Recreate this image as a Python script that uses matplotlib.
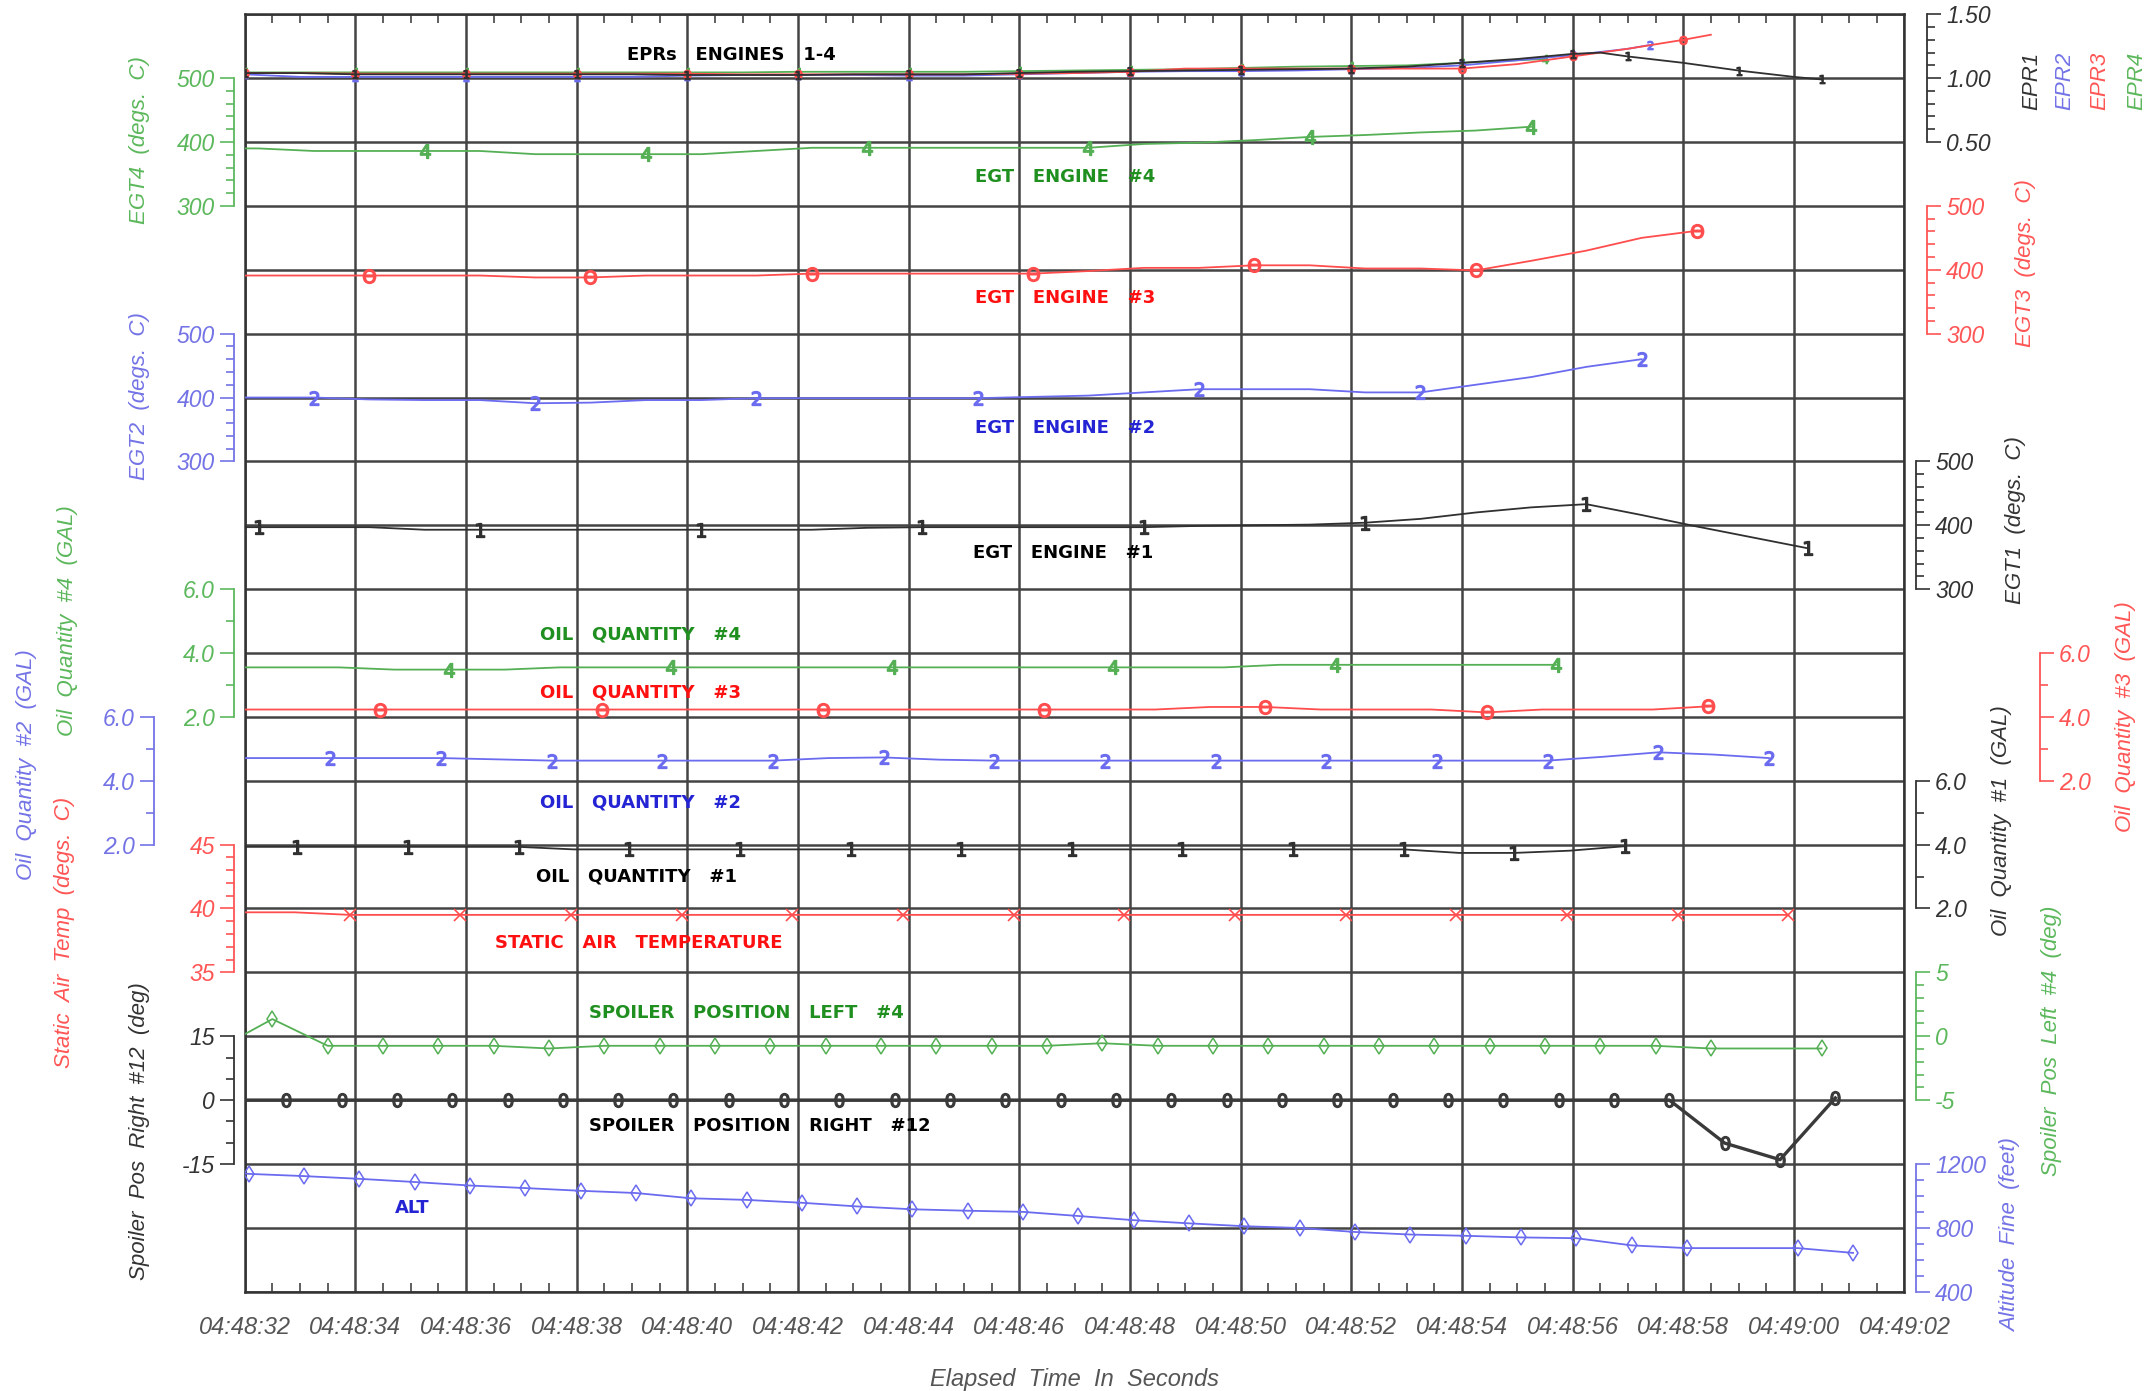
import matplotlib
matplotlib.use("Agg")
import matplotlib.pyplot as plt
from matplotlib import font_manager as fm

# ---------------------------------------------------------------- data
X_TICKS = [32, 34, 36, 38, 40, 42, 44, 46, 48, 50, 52, 54, 56, 58, 60, 62]
X_TICK_LABELS = ["04:48:32", "04:48:34", "04:48:36", "04:48:38", "04:48:40",
                 "04:48:42", "04:48:44", "04:48:46", "04:48:48", "04:48:50",
                 "04:48:52", "04:48:54", "04:48:56", "04:48:58", "04:49:00",
                 "04:49:02"]
X_MINOR = [32.5, 33, 33.5, 34.5, 35, 35.5, 36.5, 37, 37.5, 38.5, 39, 39.5,
           40.5, 41, 41.5, 42.5, 43, 43.5, 44.5, 45, 45.5, 46.5, 47, 47.5,
           48.5, 49, 49.5, 50.5, 51, 51.5, 52.5, 53, 53.5, 54.5, 55, 55.5,
           56.5, 57, 57.5, 58.5, 59, 59.5, 60.5, 61, 61.5]

# EPRs (engines 1-4)
EPR1_T = [32, 33, 34, 35, 36, 37, 38, 39, 40, 41, 42, 43, 44, 45, 46, 47, 48,
          49, 50, 51, 52, 53, 54, 55, 56, 56.5, 57, 58, 59, 60, 60.5]
EPR1_V = [1.04, 1.04, 1.03, 1.03, 1.03, 1.03, 1.03, 1.03, 1.025, 1.025, 1.025,
          1.03, 1.03, 1.03, 1.04, 1.05, 1.055, 1.06, 1.065, 1.07, 1.075, 1.09,
          1.12, 1.15, 1.19, 1.20, 1.17, 1.12, 1.06, 1.01, 0.99]
EPR2_T = [32, 33, 34, 35, 36, 37, 38, 39, 40, 41, 42, 43, 44, 45, 46, 47, 48,
          49, 50, 51, 52, 53, 54, 55, 56, 57, 57.4]
EPR2_V = [1.03, 1.01, 1.01, 1.01, 1.01, 1.01, 1.01, 1.01, 1.02, 1.025, 1.025,
          1.025, 1.02, 1.02, 1.03, 1.04, 1.05, 1.055, 1.055, 1.06, 1.07, 1.08,
          1.10, 1.14, 1.18, 1.23, 1.26]
EPR3_T = [32, 33, 34, 35, 36, 37, 38, 39, 40, 41, 42, 43, 44, 45, 46, 47, 48,
          49, 50, 51, 52, 53, 54, 55, 56, 57, 58, 58.5]
EPR3_V = [1.04, 1.04, 1.035, 1.035, 1.035, 1.035, 1.035, 1.035, 1.035, 1.03,
          1.03, 1.03, 1.03, 1.03, 1.035, 1.04, 1.05, 1.075, 1.075, 1.075,
          1.075, 1.075, 1.075, 1.11, 1.17, 1.23, 1.30, 1.34]
EPR4_T = [32, 33, 34, 35, 36, 37, 38, 39, 40, 41, 42, 43, 44, 45, 46, 47, 48,
          49, 50, 51, 52, 53, 54, 55, 55.5]
EPR4_V = [1.045, 1.045, 1.045, 1.045, 1.045, 1.045, 1.045, 1.045, 1.045,
          1.045, 1.05, 1.05, 1.05, 1.05, 1.055, 1.06, 1.065, 1.07, 1.08, 1.09,
          1.095, 1.10, 1.12, 1.14, 1.15]

# EGT engines
EGT4_T = [32.0, 32.25, 33.25, 34.25, 35.25, 36.25, 37.25, 38.25, 39.25, 40.25,
          41.25, 42.25, 43.25, 44.25, 45.25, 46.25, 47.25, 48.25, 49.25, 50.25,
          51.25, 52.25, 53.25, 54.25, 55.25]
EGT4_V = [390, 390, 386, 386, 386, 386, 381, 381, 381, 381, 386, 391, 391, 391,
          391, 391, 391, 397, 399, 403, 408, 411, 415, 418, 424]
EGT3_T = [32.0, 32.25, 33.25, 34.25, 35.25, 36.25, 37.25, 38.25, 39.25, 40.25,
          41.25, 42.25, 43.25, 44.25, 45.25, 46.25, 47.25, 48.25, 49.25, 50.25,
          51.25, 52.25, 53.25, 54.25, 55.25, 56.25, 57.25, 58.25]
EGT3_V = [391, 391, 391, 391, 391, 391, 388, 388, 391, 391, 391, 394, 394, 394,
          394, 394, 398, 403, 403, 407, 407, 402, 402, 399, 414, 430, 450, 461]
EGT2_T = [32.0, 32.25, 33.25, 34.25, 35.25, 36.25, 37.25, 38.25, 39.25, 40.25,
          41.25, 42.25, 43.25, 44.25, 45.25, 46.25, 47.25, 48.25, 49.25, 50.25,
          51.25, 52.25, 53.25, 54.25, 55.25, 56.25, 57.25]
EGT2_V = [400, 400, 400, 397, 396, 396, 391, 392, 396, 396, 399, 399, 399, 399,
          399, 401, 403, 408, 413, 413, 413, 408, 408, 420, 432, 448, 460]
EGT1_T = [32.0, 32.25, 33.25, 34.25, 35.25, 36.25, 37.25, 38.25, 39.25, 40.25,
          41.25, 42.25, 43.25, 44.25, 45.25, 46.25, 47.25, 48.25, 49.25, 50.25,
          51.25, 52.25, 53.25, 54.25, 55.25, 56.25, 57.25, 58.25, 59.25, 60.25]
EGT1_V = [397, 397, 397, 397, 393, 393, 393, 393, 393, 393, 393, 393, 396, 397,
          397, 397, 397, 397, 399, 400, 401, 404, 410, 420, 428, 433, 416, 398,
          381, 364]

# Oil quantities
OIL4_T = [32.0, 32.7, 33.7, 34.7, 35.7, 36.7, 37.7, 38.7, 39.7, 40.7, 41.7,
          42.7, 43.7, 44.7, 45.7, 46.7, 47.7, 48.7, 49.7, 50.7, 51.7, 52.7,
          53.7, 54.7, 55.7]
OIL4_V = [3.55, 3.55, 3.55, 3.48, 3.48, 3.48, 3.55, 3.55, 3.55, 3.55, 3.55,
          3.55, 3.55, 3.55, 3.55, 3.55, 3.55, 3.55, 3.55, 3.63, 3.63, 3.63,
          3.63, 3.63, 3.63]
OIL3_T = [32.0, 32.45, 33.45, 34.45, 35.45, 36.45, 37.45, 38.45, 39.45, 40.45,
          41.45, 42.45, 43.45, 44.45, 45.45, 46.45, 47.45, 48.45, 49.45, 50.45,
          51.45, 52.45, 53.45, 54.45, 55.45, 56.45, 57.45, 58.45]
OIL3_V = [4.23, 4.23, 4.23, 4.23, 4.23, 4.23, 4.23, 4.23, 4.23, 4.23, 4.23,
          4.23, 4.23, 4.23, 4.23, 4.23, 4.23, 4.23, 4.31, 4.31, 4.23, 4.23,
          4.23, 4.14, 4.23, 4.23, 4.23, 4.33]
OIL2_T = [32.0, 32.55, 33.55, 34.55, 35.55, 36.55, 37.55, 38.55, 39.55, 40.55,
          41.55, 42.55, 43.55, 44.55, 45.55, 46.55, 47.55, 48.55, 49.55, 50.55,
          51.55, 52.55, 53.55, 54.55, 55.55, 56.55, 57.55, 58.55, 59.55]
OIL2_V = [4.71, 4.71, 4.71, 4.71, 4.71, 4.67, 4.63, 4.63, 4.63, 4.63, 4.63,
          4.71, 4.73, 4.66, 4.63, 4.63, 4.63, 4.63, 4.63, 4.63, 4.63, 4.63,
          4.63, 4.63, 4.63, 4.75, 4.89, 4.82, 4.71]
OIL1_T = [32.0, 32.95, 33.95, 34.95, 35.95, 36.95, 37.95, 38.95, 39.95, 40.95,
          41.95, 42.95, 43.95, 44.95, 45.95, 46.95, 47.95, 48.95, 49.95, 50.95,
          51.95, 52.95, 53.95, 54.95, 55.95, 56.95]
OIL1_V = [3.93, 3.93, 3.93, 3.93, 3.93, 3.93, 3.85, 3.85, 3.85, 3.85, 3.85,
          3.85, 3.85, 3.85, 3.85, 3.85, 3.85, 3.85, 3.85, 3.85, 3.85, 3.85,
          3.74, 3.74, 3.81, 3.95]

# Static air temperature
SAT_T = [32.0, 32.9, 33.9, 34.9, 35.9, 36.9, 37.9, 38.9, 39.9, 40.9, 41.9,
         42.9, 43.9, 44.9, 45.9, 46.9, 47.9, 48.9, 49.9, 50.9, 51.9, 52.9,
         53.9, 54.9, 55.9, 56.9, 57.9, 58.9, 59.9]
SAT_V = [39.7, 39.7, 39.5, 39.5, 39.5, 39.5, 39.5, 39.5, 39.5, 39.5, 39.5,
         39.5, 39.5, 39.5, 39.5, 39.5, 39.5, 39.5, 39.5, 39.5, 39.5, 39.5,
         39.5, 39.5, 39.5, 39.5, 39.5, 39.5, 39.5]

# Spoilers
SPL_T = [32.0, 32.5, 33.5, 34.5, 35.5, 36.5, 37.5, 38.5, 39.5, 40.5, 41.5,
         42.5, 43.5, 44.5, 45.5, 46.5, 47.5, 48.5, 49.5, 50.5, 51.5, 52.5,
         53.5, 54.5, 55.5, 56.5, 57.5, 58.5, 60.5]
SPL_V = [0.16, 1.34, -0.75, -0.75, -0.75, -0.75, -0.96, -0.75, -0.75, -0.75,
         -0.75, -0.75, -0.75, -0.75, -0.75, -0.75, -0.55, -0.75, -0.75, -0.75,
         -0.75, -0.75, -0.75, -0.75, -0.75, -0.75, -0.75, -0.96, -0.96]
SPR_T = [32.0, 32.75, 33.75, 34.75, 35.75, 36.75, 37.75, 38.75, 39.75, 40.75,
         41.75, 42.75, 43.75, 44.75, 45.75, 46.75, 47.75, 48.75, 49.75, 50.75,
         51.75, 52.75, 53.75, 54.75, 55.75, 56.75, 57.75, 58.75, 59.75, 60.75]
SPR_V = [0, 0, 0, 0, 0, 0, 0, 0, 0, 0, 0, 0, 0, 0, 0, 0, 0, 0, 0, 0, 0, 0, 0,
         0, 0, 0, 0, -10.1, -14.0, 0.5]

# Altitude fine
ALT_T = [32.0, 32.07, 33.07, 34.07, 35.07, 36.07, 37.07, 38.07, 39.07, 40.07,
         41.07, 42.07, 43.07, 44.07, 45.07, 46.07, 47.07, 48.07, 49.07, 50.07,
         51.07, 52.07, 53.07, 54.07, 55.07, 56.07, 57.07, 58.07, 60.07, 61.07]
ALT_V = [1140, 1138, 1124, 1107, 1087, 1065, 1049, 1032, 1018, 985, 975, 957,
         934, 916, 907, 900, 874, 848, 828, 810, 799, 774, 758, 750, 740, 735,
         690, 673, 673, 643]

# ---------------------------------------------------------------- style
W, H, DPI = 2154, 1391, 100
L_PX, R_PX, T_PX, B_PX = 244.7, 1904.5, 14.3, 1291.7
NROWS = 20

GREEN_LINE, GREEN_AX, GREEN_TXT = "#55b055", "#5cb85c", "#1f8f1f"
BLUE_LINE, BLUE_AX, BLUE_TXT = "#6b6bf0", "#7373e6", "#2424d4"
RED_LINE, RED_AX, RED_TXT = "#ff4d4d", "#ff5555", "#ff1010"
BLACK_LINE, BLACK_AX, BLACK_TXT = "#303030", "#333333", "#000000"

names = {f.name for f in fm.fontManager.ttflist}
NARROW = "Liberation Sans Narrow" if "Liberation Sans Narrow" in names else "DejaVu Sans"
BOLD_SIZE = 17 if NARROW == "Liberation Sans Narrow" else 13
ITAL = "Liberation Sans" if "Liberation Sans" in names else "DejaVu Sans"


def pt(pixels):
    return pixels * 72.0 / DPI


fig = plt.figure(figsize=(W / DPI, H / DPI), dpi=DPI)
fig.patch.set_facecolor("white")
ax = fig.add_axes([L_PX / W, 1 - B_PX / H, (R_PX - L_PX) / W, (B_PX - T_PX) / H])
ax.set_xlim(32, 62)
ax.set_ylim(NROWS, 0)
ax.set_xticks(X_TICKS)
ax.set_xticklabels(X_TICK_LABELS, fontstyle="italic", family=ITAL)
ax.set_xticks(X_MINOR, minor=True)
ax.set_yticks(list(range(NROWS + 1)))
ax.set_yticklabels([""] * (NROWS + 1))
ax.tick_params(axis="y", which="both", length=0)
ax.tick_params(axis="x", which="major", direction="in", length=0, pad=pt(24),
               labelsize=17, labelcolor="#555555")
ax.tick_params(axis="x", which="minor", direction="in", length=pt(9),
               width=1.2, color="#444444", top=True, bottom=True)
ax.grid(True, which="major", color="#444444", linewidth=1.8)
for s in ax.spines.values():
    s.set_color("#333333")
    s.set_linewidth(1.8)
ax.set_xlabel("Elapsed  Time  In  Seconds", fontstyle="italic", family=ITAL,
              fontsize=17, color="#555555", labelpad=pt(29))


def add_scale(side, spine_px, hi, r_hi, lo, r_lo, majors, labels, minors, color):
    a = ax.twinx()
    per = (hi - lo) / (r_lo - r_hi)
    a.set_ylim(lo - (NROWS - r_lo) * per, hi + r_hi * per)
    for s in a.spines.values():
        s.set_visible(False)
    sp = a.spines[side]
    sp.set_visible(True)
    sp.set_position(("axes", (spine_px - L_PX) / (R_PX - L_PX)))
    sp.set_bounds(lo, hi)
    sp.set_color(color)
    sp.set_linewidth(1.3)
    if side == "left":
        a.yaxis.tick_left()
    else:
        a.yaxis.tick_right()
    a.set_yticks(majors)
    a.set_yticklabels(labels, fontstyle="italic", family=ITAL)
    a.set_yticks(minors, minor=True)
    a.tick_params(axis="y", which="major", direction="out", length=pt(14),
                  width=1.2, color=color, labelcolor=color, labelsize=16.5,
                  pad=pt(5))
    a.tick_params(axis="y", which="minor", direction="out", length=pt(8),
                  width=1.2, color=color)
    return a


def fig_text(x, y, s, **kw):
    fig.text(x / W, 1 - y / H, s, ha="center", va="center", **kw)


def axis_title(x, y, s, color):
    fig_text(x, y, s, rotation=90, color=color, fontstyle="italic",
             family=ITAL, fontsize=16)


def panel_title(x, y, s, color):
    fig_text(x, y, s, color=color, fontweight="bold", family=NARROW,
             fontsize=BOLD_SIZE)


LW = 1.3

# ---- EPR scale (right)
a = add_scale("right", 1927, 1.5, 0, 0.5, 2, [0.5, 1.0, 1.5],
              ["0.50", "1.00", "1.50"],
              [0.6, 0.7, 0.8, 0.9, 1.1, 1.2, 1.3, 1.4], BLACK_AX)
a.plot(EPR4_T, EPR4_V, color=GREEN_LINE, lw=LW, marker="$4$", ms=6, markevery=2)
a.plot(EPR2_T, EPR2_V, color=BLUE_LINE, lw=LW, marker="$2$", ms=6, markevery=2)
a.plot(EPR3_T, EPR3_V, color=RED_LINE, lw=LW, marker=r"$\Theta$", ms=6, markevery=2)
a.plot(EPR1_T, EPR1_V, color=BLACK_LINE, lw=LW, marker="$1$", ms=6, markevery=2)
fig_text(2032, 81, "EPR1", rotation=90, color=BLACK_AX, fontstyle="italic", family=ITAL, fontsize=16)
fig_text(2065, 81, "EPR2", rotation=90, color=BLUE_AX, fontstyle="italic", family=ITAL, fontsize=16)
fig_text(2100, 81, "EPR3", rotation=90, color=RED_AX, fontstyle="italic", family=ITAL, fontsize=16)
fig_text(2137, 81, "EPR4", rotation=90, color=GREEN_AX, fontstyle="italic", family=ITAL, fontsize=16)
panel_title(731, 55, "EPRs   ENGINES   1-4", BLACK_TXT)

# ---- EGT4 (left)
a = add_scale("left", 234, 500, 1, 300, 3, [300, 400, 500], ["300", "400", "500"],
              [320, 340, 360, 380, 420, 440, 460, 480], GREEN_AX)
a.plot(EGT4_T, EGT4_V, color=GREEN_LINE, lw=LW, marker="$4$", ms=10,
       markevery=slice(4, None, 4))
axis_title(139, 140, "EGT4  (degs.  C)", GREEN_AX)
panel_title(1065, 177, "EGT   ENGINE   #4", GREEN_TXT)

# ---- EGT3 (right)
a = add_scale("right", 1927, 500, 3, 300, 5, [300, 400, 500], ["300", "400", "500"],
              [320, 340, 360, 380, 420, 440, 460, 480], RED_AX)
a.plot(EGT3_T, EGT3_V, color=RED_LINE, lw=LW, marker=r"$\Theta$", ms=10,
       markevery=slice(3, None, 4))
axis_title(2026, 263, "EGT3  (degs.  C)", RED_AX)
panel_title(1065, 298, "EGT   ENGINE   #3", RED_TXT)

# ---- EGT2 (left)
a = add_scale("left", 234, 500, 5, 300, 7, [300, 400, 500], ["300", "400", "500"],
              [320, 340, 360, 380, 420, 440, 460, 480], BLUE_AX)
a.plot(EGT2_T, EGT2_V, color=BLUE_LINE, lw=LW, marker="$2$", ms=10,
       markevery=slice(2, None, 4))
axis_title(139, 396, "EGT2  (degs.  C)", BLUE_AX)
panel_title(1065, 428, "EGT   ENGINE   #2", BLUE_TXT)

# ---- EGT1 (right)
a = add_scale("right", 1916, 500, 7, 300, 9, [300, 400, 500], ["300", "400", "500"],
              [320, 340, 360, 380, 420, 440, 460, 480], BLACK_AX)
a.plot(EGT1_T, EGT1_V, color=BLACK_LINE, lw=LW, marker="$1$", ms=10,
       markevery=slice(1, None, 4))
axis_title(2015, 520, "EGT1  (degs.  C)", BLACK_AX)
panel_title(1063, 553, "EGT   ENGINE   #1", BLACK_TXT)

# ---- Oil #4 (left)
a = add_scale("left", 234, 6.0, 9, 2.0, 11, [2.0, 4.0, 6.0], ["2.0", "4.0", "6.0"],
              [3.0, 5.0], GREEN_AX)
a.plot(OIL4_T, OIL4_V, color=GREEN_LINE, lw=LW, marker="$4$", ms=10,
       markevery=slice(4, None, 4))
axis_title(67, 621, "Oil  Quantity  #4  (GAL)", GREEN_AX)
panel_title(641, 635, "OIL   QUANTITY   #4", GREEN_TXT)

# ---- Oil #3 (right)
a = add_scale("right", 2040, 6.0, 10, 2.0, 12, [2.0, 4.0, 6.0], ["2.0", "4.0", "6.0"],
              [3.0, 5.0], RED_AX)
a.plot(OIL3_T, OIL3_V, color=RED_LINE, lw=LW, marker=r"$\Theta$", ms=10,
       markevery=slice(3, None, 4))
axis_title(2126, 717, "Oil  Quantity  #3  (GAL)", RED_AX)
panel_title(641, 692, "OIL   QUANTITY   #3", RED_TXT)

# ---- Oil #2 (left, outer)
a = add_scale("left", 154, 6.0, 11, 2.0, 13, [2.0, 4.0, 6.0], ["2.0", "4.0", "6.0"],
              [3.0, 5.0], BLUE_AX)
a.plot(OIL2_T, OIL2_V, color=BLUE_LINE, lw=LW, marker="$2$", ms=10,
       markevery=slice(2, None, 2))
axis_title(27, 765, "Oil  Quantity  #2  (GAL)", BLUE_AX)
panel_title(641, 802, "OIL   QUANTITY   #2", BLUE_TXT)

# ---- Oil #1 (right)
a = add_scale("right", 1916, 6.0, 12, 2.0, 14, [2.0, 4.0, 6.0], ["2.0", "4.0", "6.0"],
              [3.0, 5.0], BLACK_AX)
a.plot(OIL1_T, OIL1_V, color=BLACK_LINE, lw=LW, marker="$1$", ms=10,
       markevery=slice(1, None, 2))
axis_title(2002, 821, "Oil  Quantity  #1  (GAL)", BLACK_AX)
panel_title(637, 876, "OIL   QUANTITY   #1", BLACK_TXT)

# ---- Static air temperature (left)
a = add_scale("left", 234, 45, 13, 35, 15, [35, 40, 45], ["35", "40", "45"],
              [36, 37, 38, 39, 41, 42, 43, 44], RED_AX)
a.plot(SAT_T, SAT_V, color=RED_LINE, lw=LW, marker="x", ms=8, mew=1.2,
       markevery=slice(2, None, 2))
axis_title(65, 932, "Static  Air  Temp  (degs.  C)", RED_AX)
panel_title(639, 943, "STATIC   AIR   TEMPERATURE", RED_TXT)

# ---- Spoiler left #4 (right)
a = add_scale("right", 1916, 5, 15, -5, 17, [-5, 0, 5], ["-5", "0", "5"],
              [-4, -3, -2, -1, 1, 2, 3, 4], GREEN_AX)
a.plot(SPL_T, SPL_V, color=GREEN_LINE, lw=LW, marker="d", ms=8, mfc="none",
       mew=1.1, markevery=slice(1, None, 1))
axis_title(2051, 1041, "Spoiler  Pos  Left  #4  (deg)", GREEN_AX)
panel_title(746, 1013, "SPOILER   POSITION   LEFT   #4", GREEN_TXT)

# ---- Spoiler right #12 (left)
a = add_scale("left", 234, 15, 16, -15, 18, [-15, 0, 15], ["-15", "0", "15"],
              [-10, -5, 5, 10], BLACK_AX)
a.plot(SPR_T, SPR_V, color="#3a3a3a", lw=2.4, marker="$0$", ms=10,
       markevery=slice(1, None, 1))
axis_title(139, 1131, "Spoiler  Pos  Right  #12  (deg)", BLACK_AX)
panel_title(760, 1126, "SPOILER   POSITION   RIGHT   #12", BLACK_TXT)

# ---- Altitude fine (right)
a = add_scale("right", 1916, 1200, 18, 400, 20, [400, 800, 1200],
              ["400", "800", "1200"], [500, 600, 700, 900, 1000, 1100], BLUE_AX)
a.plot(ALT_T, ALT_V, color=BLUE_LINE, lw=LW, marker="d", ms=8, mfc="none",
       mew=1.1, markevery=slice(1, None, 1))
axis_title(2011, 1235, "Altitude  Fine  (feet)", BLUE_AX)
panel_title(412, 1208, "ALT", BLUE_TXT)

fig.savefig("out.png", dpi=DPI, facecolor="white")
